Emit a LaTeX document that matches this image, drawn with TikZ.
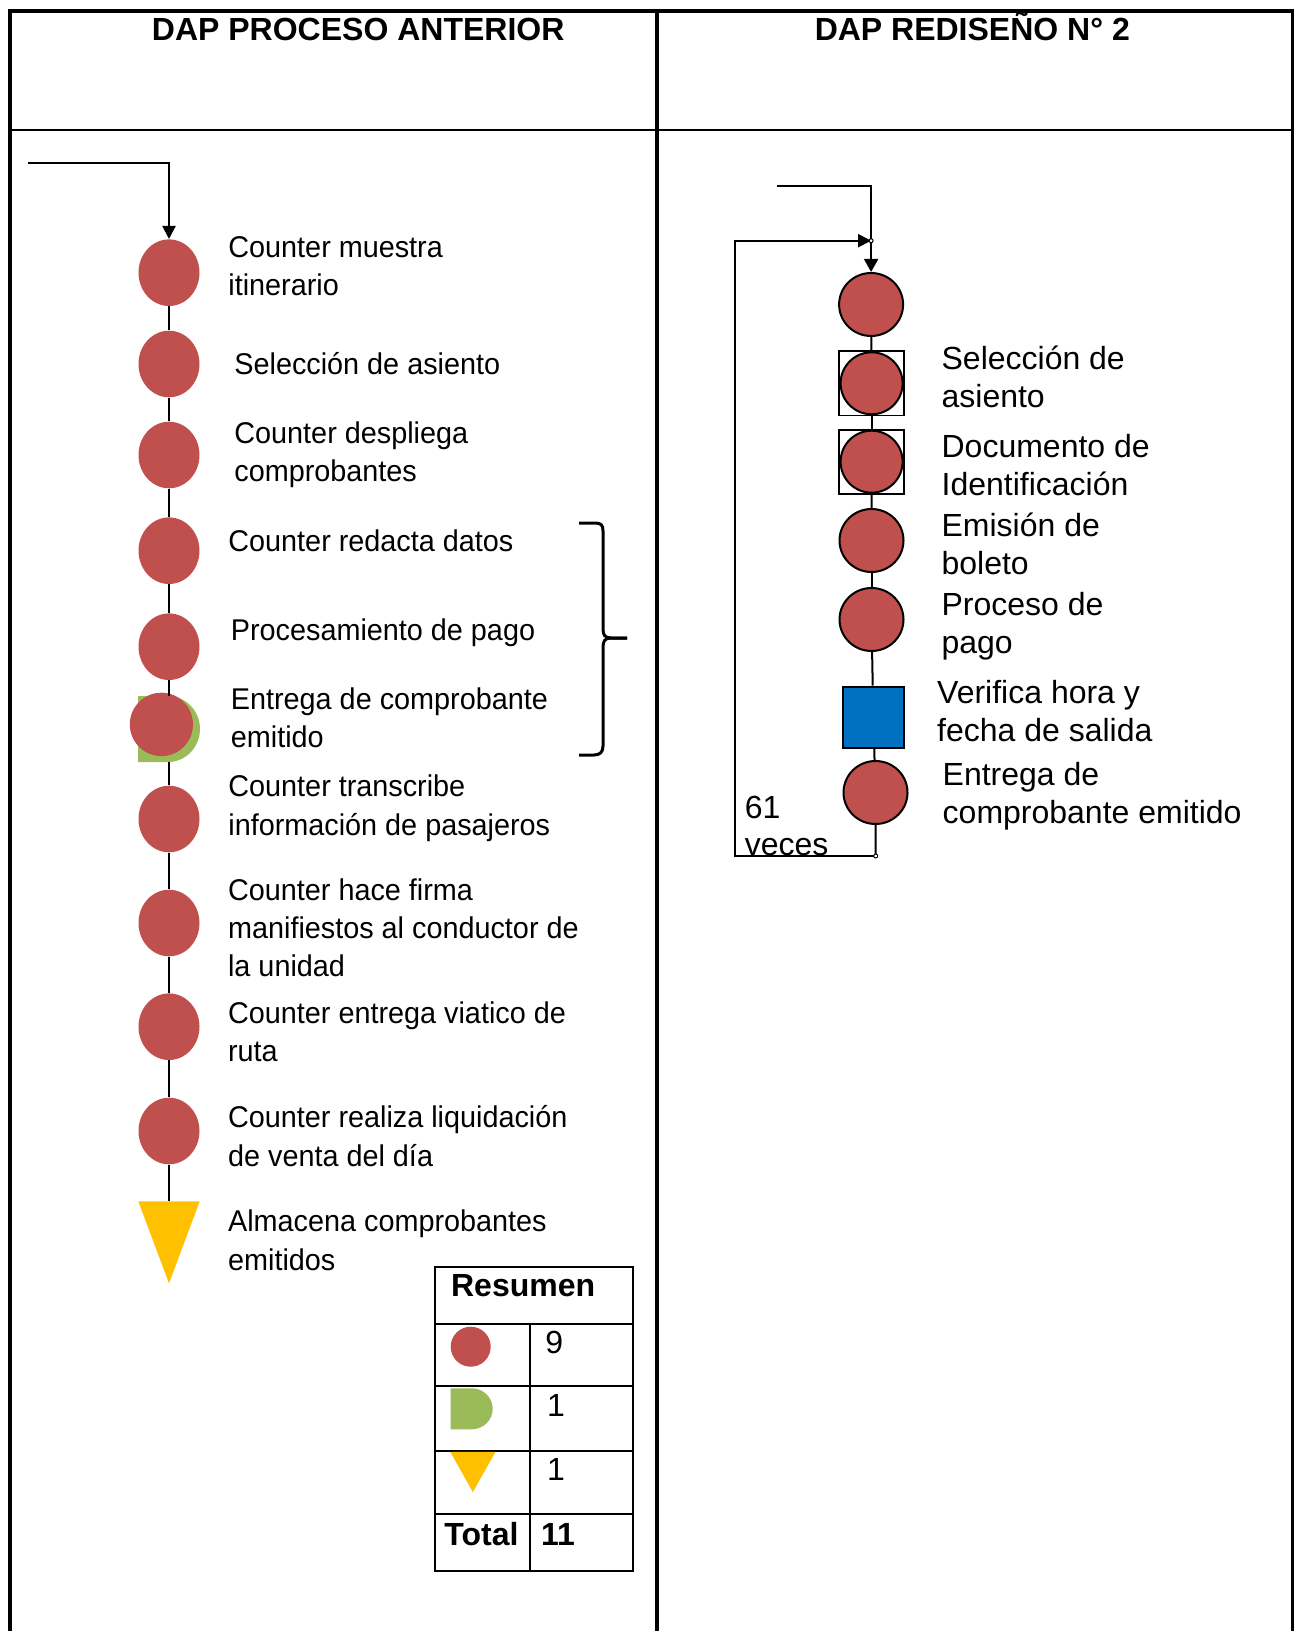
\documentclass[tikz,border=0pt]{standalone}
\usepackage{fontspec}
\setmainfont{Liberation Sans}
\newfontfamily\narrowsans[FakeStretch=0.96]{Liberation Sans}
\usetikzlibrary{shapes.geometric,arrows.meta}

\definecolor{opred}{HTML}{C0504D}
\definecolor{delgreen}{HTML}{9BBB59}
\definecolor{storeyel}{HTML}{FFC000}
\definecolor{inspblue}{HTML}{0070C0}

% stacked left-aligned lines; baseline = first line
\newcommand\stk[1]{\vtop{\let\\\cr\halign{##\hfil\cr#1\crcr}}}

\tikzset{
  frameline/.style={line width=1.75pt},
  titletxt/.style={anchor=base, inner sep=0pt, font=\bfseries\fontsize{16}{19}\selectfont},
  lefttxt/.style={anchor=base west, inner sep=0pt, font=\narrowsans\fontsize{15}{19.15}\selectfont},
  righttxt/.style={anchor=base west, inner sep=0pt, font=\fontsize{16}{19}\selectfont},
  celltxt/.style={anchor=base west, inner sep=0pt, font=\fontsize{16}{19}\selectfont},
  opleft/.style={ellipse, fill=opred, minimum width=30.5pt, minimum height=33.3pt, inner sep=0pt},
  opright/.style={ellipse, draw, line width=1pt, fill=opred, minimum width=32pt, minimum height=31.5pt, inner sep=0pt},
  combobox/.style={rectangle, draw, line width=0.8pt, minimum width=32.5pt, minimum height=32pt, inner sep=0pt},
  inspbox/.style={rectangle, draw, line width=1pt, fill=inspblue, minimum width=30.5pt, minimum height=30.5pt, inner sep=0pt},
  ghost/.style={rectangle, inner sep=0pt},
  flow/.style={line width=1pt},
  flowarrow/.style={line width=1pt, -{Triangle[width=6.5pt,length=6.5pt]}},
  junction/.style={circle, draw, line width=0.5pt, fill=white, minimum size=2pt, inner sep=0pt},
  brace/.style={line width=1.5pt},
  tableline/.style={line width=1pt}
}

\begin{document}
\begin{tikzpicture}[x=0.5pt,y=-0.5pt]
\useasboundingbox (0,0) rectangle (1295,1631);
\fill[white] (0,0) rectangle (1295,1631);

% outer frame and header
\draw[frameline] (10,1631) -- (10,11) -- (1292.3,11) -- (1292.3,1631);
\draw[line width=2pt] (657,11) -- (657,1631);
\draw[line width=1pt] (10,130.3) -- (1292.3,130.3);

\node[titletxt] (t1) at (358.2,40.7) {DAP PROCESO ANTERIOR};
\node[titletxt] (t2) at (972.3,40.7) {DAP REDISEÑO N° 2};

% ---------------- previous process ----------------
\coordinate (lin) at (28,163.3);
\node[opleft] (c1) at (169,272.7) {};
\node[opleft] (c2) at (169,364) {};
\node[opleft] (c3) at (169,455) {};
\node[opleft] (c4) at (169,550.7) {};
\node[opleft] (c5) at (169,646.7) {};
\node[ghost, minimum width=31pt, minimum height=33pt] (d6) at (169,729) {};
\node[opleft] (c7) at (169,819) {};
\node[opleft] (c8) at (169,923) {};
\node[opleft] (c9) at (169,1026.7) {};
\node[opleft] (c10) at (169,1131) {};
\node[ghost, minimum width=30.3pt, minimum height=40.65pt] (tri) at (169,1242.3) {};

% delivery symbol overlapped by an operation
\fill[delgreen] (138,696) -- (168,696) .. controls (185.7,696) and (200,710.8) .. (200,729)
  .. controls (200,747.2) and (185.7,762) .. (168,762) -- (138,762) -- cycle;
\node[ellipse, fill=opred, minimum width=31.6pt, minimum height=31.7pt, inner sep=0pt] (e6) at (161.4,724.4) {};

% storage symbol
\fill[storeyel] (tri.north west) -- (tri.north east) -- (tri.south) -- cycle;

\draw[flowarrow] (lin) -| (c1.north);
\draw[flow] (c1) -- (c2);
\draw[flow] (c2) -- (c3);
\draw[flow] (c3) -- (c4);
\draw[flow] (c4) -- (c5);
\draw[flow] (c5) -- (d6);
\draw[flow] (d6) -- (c7);
\draw[flow] (c7) -- (c8);
\draw[flow] (c8) -- (c9);
\draw[flow] (c9) -- (c10);
\draw[flow] (c10) -- (tri);

\node[lefttxt] (l1) at (228,257.7) {\stk{Counter muestra\\itinerario}};
\node[lefttxt] (l2) at (234,374) {Selección de asiento};
\node[lefttxt] (l3) at (234,443.3) {\stk{Counter despliega\\comprobantes}};
\node[lefttxt] (l4) at (228,551.7) {Counter redacta datos};
\node[lefttxt] (l5) at (230.5,640) {Procesamiento de pago};
\node[lefttxt] (l6) at (230.5,709.3) {\stk{Entrega de comprobante\\emitido}};
\node[lefttxt] (l7) at (228,796.7) {\stk{Counter transcribe\\información de pasajeros}};
\node[lefttxt] (l8) at (227.7,900) {\stk{Counter hace firma\\manifiestos al conductor de\\la unidad}};
\node[lefttxt] (l9) at (227.7,1023.3) {\stk{Counter entrega viatico de\\ruta}};
\node[lefttxt] (l10) at (227.7,1127.7) {\stk{Counter realiza liquidación\\de venta del día}};
\node[lefttxt] (l11) at (227.7,1231.7) {\stk{Almacena comprobantes\\emitidos}};

% grouping brace
\draw[brace] (579,523) -- (595,523) .. controls (601,523) and (603,525) .. (603,531)
  -- (603,629) .. controls (603,635) and (605,638) .. (611,638) -- (627,638);
\draw[brace] (627,638) -- (611,638) .. controls (605,638) and (603,641) .. (603,647)
  -- (603,746) .. controls (603,752) and (600,755) .. (594,755) -- (579,755);

% summary table
\draw[tableline] (435,1266.7) rectangle (632.7,1570.7);
\draw[tableline] (435,1324) -- (632.7,1324);
\draw[tableline] (435,1386) -- (632.7,1386);
\draw[tableline] (435,1451) -- (632.7,1451);
\draw[tableline] (435,1514) -- (632.7,1514);
\draw[tableline] (530,1324) -- (530,1570.7);
\node[celltxt, font=\bfseries\fontsize{16}{19}\selectfont] (rs) at (450.7,1296.7) {Resumen};
\node[circle, fill=opred, minimum size=20pt, inner sep=0pt] (k1) at (470.7,1346.7) {};
\fill[delgreen] (450.7,1388.3) -- (471.7,1388.3) .. controls (483.3,1388.3) and (492.7,1397.5) .. (492.7,1408.8)
  .. controls (492.7,1420.1) and (483.3,1429.3) .. (471.7,1429.3) -- (450.7,1429.3) -- cycle;
\node[ghost, minimum width=22.15pt, minimum height=19.7pt] (k3) at (472.85,1472) {};
\fill[storeyel] (k3.north west) -- (k3.north east) -- (k3.south) -- cycle;
\node[celltxt] (n1) at (545,1353.3) {9};
\node[celltxt] (n2) at (546.7,1416.7) {1};
\node[celltxt] (n3) at (546.7,1480) {1};
\node[celltxt, font=\bfseries\fontsize{16}{19}\selectfont] (tt) at (444,1545) {Total};
\node[celltxt, font=\bfseries\fontsize{16}{19}\selectfont] (tn) at (540.7,1545) {11};

% ---------------- redesign no. 2 ----------------
\coordinate (rin) at (776.6,185.7);
\coordinate (jt) at (871.1,240.7);
\coordinate (jb) at (875.7,856);
\coordinate (lpb) at (735,856);
\coordinate (lpt) at (735,240.7);

\node[opright] (r1) at (871.1,304.5) {};
\node[combobox] (b2) at (871.6,383.3) {};
\node[opright, minimum width=31pt, minimum height=31pt] (r2) at (871.6,383.3) {};
\node[combobox] (b3) at (871.6,461.7) {};
\node[opright, minimum width=31pt, minimum height=31pt] (r3) at (871.6,461.7) {};
\node[opright] (r4) at (871.5,540.5) {};
\node[opright] (r5) at (871.5,619.5) {};
\node[inspbox] (sq) at (873.3,717.2) {};
\node[opright] (r7) at (875.5,792.5) {};

\draw[flowarrow, -{Triangle[width=7pt,length=6.5pt]}] (rin) -| (r1.north);
\draw[flow] (r1) -- (b2);
\draw[flow] (b2) -- (b3);
\draw[flow] (b3) -- (r4);
\draw[flow] (r4) -- (r5);
\draw[flow] (r5) -- (sq);
\draw[flow] (sq) -- (r7);
\draw[flow] (r7.south) -- (jb);
\draw[flowarrow, -{Triangle[width=6.5pt,length=6.5pt]}] (jb) -- (lpb) -- (lpt) -- (jt);
\node[junction] (jtn) at (jt) {};
\node[junction] (jbn) at (jb) {};

\node[righttxt] (s2) at (941.2,369.3) {\stk{Selección de\\asiento}};
\node[righttxt] (s3) at (941.2,457.7) {\stk{Documento de\\Identificación}};
\node[righttxt] (s4) at (941.2,536.7) {\stk{Emisión de\\boleto}};
\node[righttxt] (s5) at (941.2,615) {\stk{Proceso de\\pago}};
\node[righttxt] (s6) at (936.8,703.3) {\stk{Verifica hora y\\fecha de salida}};
\node[righttxt] (s7) at (942.3,785) {\stk{Entrega de\\comprobante emitido}};
\node[righttxt, font=\fontsize{16}{18.4}\selectfont] (rep) at (744.4,818.3) {\stk{61\\veces}};
\end{tikzpicture}
\end{document}
